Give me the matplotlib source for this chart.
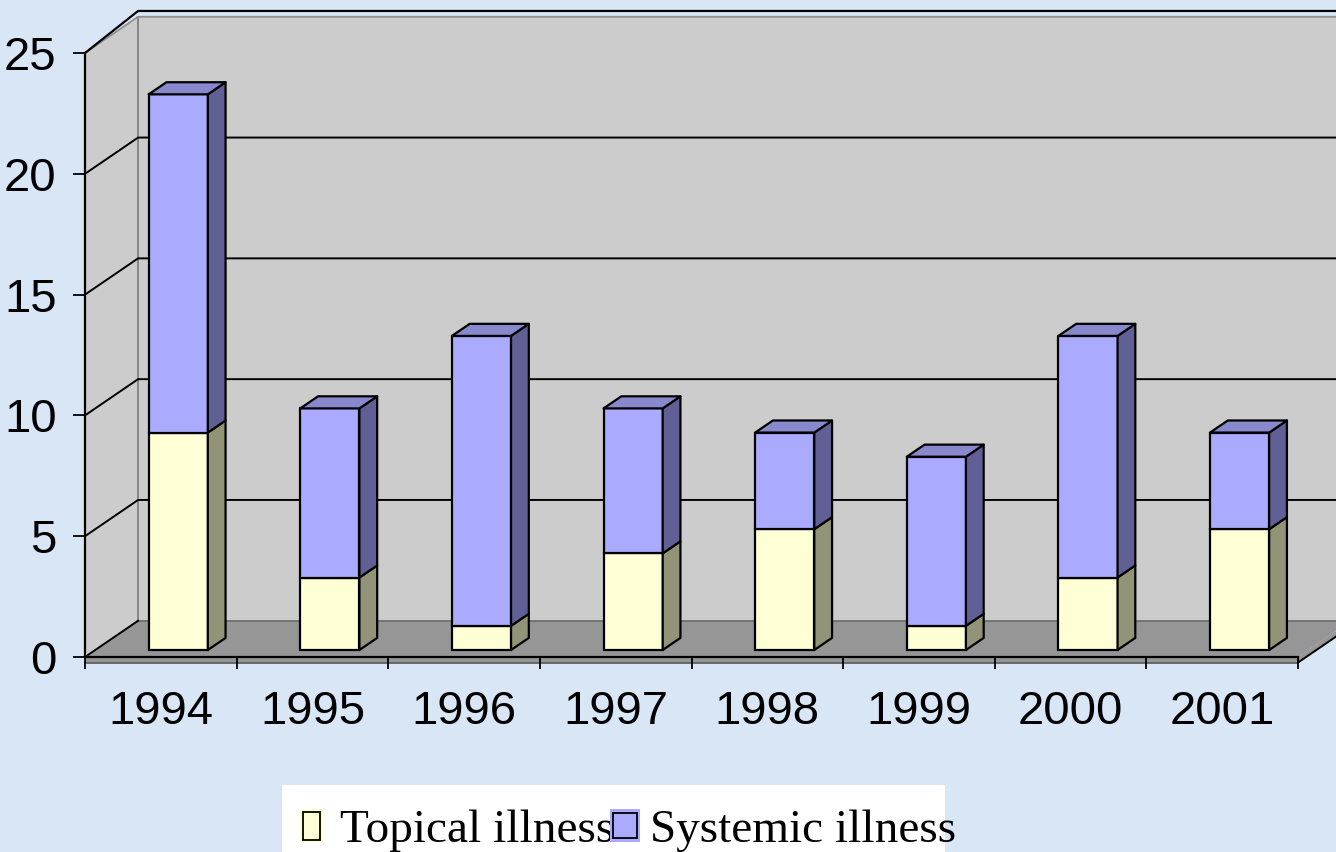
import numpy as np
import matplotlib.pyplot as plt
from matplotlib.patches import Polygon, Rectangle

# data
years = ['1994', '1995', '1996', '1997', '1998', '1999', '2000', '2001']
topical = [9, 3, 1, 4, 5, 1, 3, 5]
systemic = [14, 7, 12, 6, 4, 7, 10, 4]
y_ticks = [0, 5, 10, 15, 20, 25]
series_names = ['Topical illness', 'Systemic illness']

# colours
bg = '#d8e6f6'
wall_c = '#cccccc'
floor_c = '#969696'
yel_front, yel_side = '#ffffd5', '#939377'
blu_front, blu_side, blu_top = '#aaaaff', '#606096', '#8888cc'

# fake 3d geometry (data units)
DX, DY = 0.35, 1.5        # depth of the box
BX, BW, BY = 0.42, 0.39, 0.29   # bar offset / width / lift inside a category
BDX, BDY = 0.117, 0.5     # depth of a bar
SLAB = 0.23               # thickness of the floor
LW = 1.6

sans = ['Liberation Sans Narrow', 'Liberation Sans', 'DejaVu Sans']
serif = ['Liberation Serif', 'DejaVu Serif']

W, H = 1336, 852
fig = plt.figure(figsize=(W / 100, H / 100), dpi=100)
fig.patch.set_facecolor(bg)

ax = fig.add_axes([85 / W, 1 - 657 / H, 1213 / W, 604 / H])
n = len(years)
ymax = y_ticks[-1]
ax.set_xlim(0, n)
ax.set_ylim(0, ymax)
ax.patch.set_alpha(0)
right = n + DX + 0.5

# walls
ax.add_patch(Polygon([(0, 0), (DX, DY), (DX, ymax + DY), (0, ymax)],
                     fc=wall_c, ec='none', clip_on=False, zorder=0))
ax.add_patch(Rectangle((DX, DY), right - DX, ymax, fc=wall_c, ec='none',
                       clip_on=False, zorder=0))
ax.plot([DX, DX], [DY, ymax + DY], color='#808080', lw=1.3, clip_on=False, zorder=1)
ax.plot([0, DX, right], [ymax, ymax + DY, ymax + DY], color='#909090', lw=1.3,
        clip_on=False, zorder=1)
ax.plot([0, DX, right], [ymax, ymax + DY + 0.24, ymax + DY + 0.24], color='k',
        lw=LW, clip_on=False, zorder=1)

# gridlines on the walls
for v in y_ticks[1:-1]:
    ax.plot([0, DX, right], [v, v + DY, v + DY], color='k', lw=1.4,
            clip_on=False, zorder=1)

# floor
ax.add_patch(Polygon([(0, 0), (n, 0), (n + DX, DY), (DX, DY)],
                     fc=floor_c, ec='none', clip_on=False, zorder=1))
ax.add_patch(Rectangle((0, -SLAB), n, SLAB, fc=floor_c, ec='none',
                       clip_on=False, zorder=1))
ax.add_patch(Polygon([(n, -SLAB), (n, 0), (n + DX, DY), (n + DX, DY - SLAB)],
                     fc=floor_c, ec='none', clip_on=False, zorder=1))
ax.plot([DX, n + DX], [DY, DY], color='#707070', lw=1.3, clip_on=False, zorder=1)
ax.plot([0, DX], [0, DY], color='k', lw=1.4, clip_on=False, zorder=1)
ax.plot([0, n], [-SLAB, -SLAB], color='#606060', lw=1.3, clip_on=False, zorder=1)
ax.plot([n, n + DX], [-SLAB, DY - SLAB], color='k', lw=1.4, clip_on=False, zorder=1)
ax.plot([n, n], [-SLAB, 0], color='k', lw=1.4, clip_on=False, zorder=1)

# bars
top_arr = np.array(topical)
tot = top_arr + np.array(systemic)
x0 = np.arange(n) + BX
ax.bar(x0, topical, BW, bottom=BY, align='edge', color=yel_front,
       edgecolor='k', lw=LW, zorder=3)
ax.bar(x0, systemic, BW, bottom=BY + top_arr, align='edge', color=blu_front,
       edgecolor='k', lw=LW, zorder=3)
for i in range(n):
    xr = x0[i] + BW
    for y0, y1, c in [(BY, BY + top_arr[i], yel_side),
                      (BY + top_arr[i], BY + tot[i], blu_side)]:
        ax.add_patch(Polygon([(xr, y0), (xr + BDX, y0 + BDY), (xr + BDX, y1 + BDY), (xr, y1)],
                             fc=c, ec='k', lw=LW, zorder=3, joinstyle='round'))
    yt = BY + tot[i]
    ax.add_patch(Polygon([(x0[i], yt), (xr, yt), (xr + BDX, yt + BDY), (x0[i] + BDX, yt + BDY)],
                         fc=blu_top, ec='k', lw=LW, zorder=3, joinstyle='round'))

# axes
for s in ['top', 'right']:
    ax.spines[s].set_visible(False)
ax.spines['left'].set_linewidth(LW)
ax.spines['bottom'].set_linewidth(LW)
ax.spines['left'].set_zorder(2)
ax.spines['bottom'].set_zorder(2)
ax.set_yticks(y_ticks)
ax.tick_params(axis='y', direction='out', length=8.5, width=1.3, pad=12, labelsize=34)
ax.set_xticks(np.arange(n) + 0.5, years)
ax.set_xticks(np.arange(n + 1), minor=True)
ax.tick_params(axis='x', which='major', length=0, pad=24, labelsize=34)
ax.tick_params(axis='x', which='minor', direction='out', length=8.5, width=1.3)
for lab in ax.get_xticklabels() + ax.get_yticklabels():
    lab.set_fontfamily(sans)

# legend, drawn by hand in pixel space
lg = fig.add_axes([0, 0, 1, 1])
lg.set_xlim(0, W)
lg.set_ylim(H, 0)
lg.axis('off')
lg.add_patch(Rectangle((282, 785), 663, 70, fc='white', ec='none', zorder=1))
lg.add_patch(Rectangle((300, 809), 23, 33, fc=yel_front, ec='none', zorder=2))
lg.add_patch(Rectangle((303, 812), 17, 28, fc=yel_front, ec='k', lw=1.3, zorder=2))
lg.text(340, 842, series_names[0], fontsize=34, family=serif, va='baseline', zorder=2)
lg.add_patch(Rectangle((610, 809), 30, 33, fc=blu_front, ec='none', zorder=3))
lg.add_patch(Rectangle((613, 813), 24, 25, fc=blu_front, ec='k', lw=1.3, zorder=3))
lg.text(650, 842, series_names[1], fontsize=34, family=serif, va='baseline', zorder=3)

fig.savefig('out.png', dpi=100, facecolor=bg)
